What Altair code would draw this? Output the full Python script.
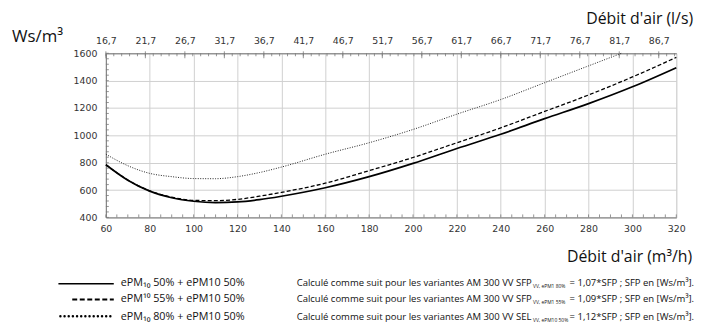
import altair as alt
import pandas as pd

# ---------------- data ----------------
flow_m3h = [60, 70, 80, 90, 100, 110, 120, 130, 140, 160, 180, 200, 220, 240, 260, 280, 300, 320]
sfp_50 = [785, 672, 592, 544, 518, 508, 513, 530, 555, 617, 698, 795, 904, 1008, 1122, 1232, 1355, 1495]
sfp_55 = [785, 674, 594, 548, 525, 522, 532, 555, 583, 650, 742, 838, 946, 1055, 1175, 1295, 1427, 1570]
flow_m3h_80 = [60, 70, 80, 90, 100, 110, 120, 130, 140, 160, 180, 200, 220, 240, 260, 280, 295]
sfp_80 = [862, 778, 722, 698, 684, 683, 698, 728, 768, 862, 946, 1043, 1155, 1262, 1385, 1508, 1600]

x_ticks = list(range(60, 321, 20))
y_ticks = list(range(400, 1601, 200))
top_ticks = [60 + 18 * k for k in range(15)]
top_labels = ["16,7", "21,7", "26,7", "31,7", "36,7", "41,7", "46,7", "51,7",
              "56,7", "61,7", "66,7", "71,7", "76,7", "81,7", "86,7"]

legend_labels = ["ePM\u2081\u2080 50% + ePM10 50%",
                 "ePM\u00b9\u2070 55% + ePM10 50%",
                 "ePM\u2081\u2080 80% + ePM10 50%"]
note_left = ["Calculé comme suit pour les variantes AM 300 VV SFP",
             "Calculé comme suit pour les variantes AM 300 VV SFP",
             "Calculé comme suit pour les variantes AM 300 VV SEL"]
note_sub = ["VV, ePM1 80%", "VV, ePM1 55%", "VV, ePM10 50%"]
note_right = ["= 1,07*SFP ; SFP en [Ws/m\u00b3].",
              "= 1,09*SFP ; SFP en [Ws/m\u00b3].",
              "= 1,12*SFP ; SFP en [Ws/m\u00b3]."]

W, H = 577, 166
XS = alt.Scale(domain=[60, 320], nice=False, zero=False)
YS = alt.Scale(domain=[400, 1600], nice=False, zero=False)
AXC = "#333333"
DOM = "#7a7a7a"
GRID = "#cfcfcf"
TF = "Open Sans"
LF = "DejaVu Sans"

df50 = pd.DataFrame({"q": flow_m3h, "v": sfp_50})
df55 = pd.DataFrame({"q": flow_m3h, "v": sfp_55})
df80 = pd.DataFrame({"q": flow_m3h_80, "v": sfp_80})

bottom_axis = alt.Axis(orient="bottom", values=x_ticks, grid=True, gridColor=GRID, gridWidth=1,
                       domainColor=DOM, tickSize=0, labelPadding=6, labelFont=LF, labelFontSize=9.5,
                       labelColor=AXC, title=None, labelFlush=False, format="d")
left_axis = alt.Axis(orient="left", values=y_ticks, grid=True, gridColor=GRID, gridWidth=1,
                     domainColor=DOM, tickSize=0, labelPadding=9, labelFont=LF, labelFontSize=9.5,
                     labelColor=AXC, title=None, labelFlush=False, format="d")
arr_v = "[" + ",".join(str(v) for v in top_ticks) + "]"
arr_l = "[" + ",".join("'" + s + "'" for s in top_labels) + "]"
top_axis = alt.Axis(orient="top", values=top_ticks, grid=False, domainColor=DOM, tickSize=0,
                    labelPadding=8, labelFont=LF, labelFontSize=9.5, labelColor=AXC, title=None,
                    labelFlush=False, labelExpr=arr_l + "[indexof(" + arr_v + ", datum.value)]")

line50 = alt.Chart(df50).mark_line(color="black", strokeWidth=1.7, interpolate="monotone").encode(
    x=alt.X("q:Q", scale=XS, axis=bottom_axis),
    y=alt.Y("v:Q", scale=YS, axis=left_axis))
line55 = alt.Chart(df55).mark_line(color="black", strokeWidth=1.3, strokeDash=[4, 2.2],
                                   interpolate="monotone").encode(
    x=alt.X("q:Q", scale=XS, axis=top_axis),
    y=alt.Y("v:Q", scale=YS, axis=None))
line80 = alt.Chart(df80).mark_line(color="#222222", strokeWidth=1.0, strokeDash=[1, 1.5],
                                   interpolate="monotone").encode(
    x=alt.X("q:Q", scale=XS, axis=None),
    y=alt.Y("v:Q", scale=YS, axis=None))

# minor ticks (inside the frame)
bt = pd.DataFrame({"q": list(range(60, 321, 5))})
tt = pd.DataFrame({"q": [60 + 3.6 * k for k in range(73)]})
lt = pd.DataFrame({"v": list(range(400, 1601, 40))})
tick_b = alt.Chart(bt).mark_rule(color=DOM, strokeWidth=0.8).encode(
    x=alt.X("q:Q", scale=XS, axis=None), y=alt.value(H), y2=alt.value(H - 3))
tick_t = alt.Chart(tt).mark_rule(color=DOM, strokeWidth=0.8).encode(
    x=alt.X("q:Q", scale=XS, axis=None), y=alt.value(0), y2=alt.value(3))
tick_tm = alt.Chart(pd.DataFrame({"q": top_ticks})).mark_rule(color=DOM, strokeWidth=0.8).encode(
    x=alt.X("q:Q", scale=XS, axis=None), y=alt.value(-2), y2=alt.value(5))
tick_l = alt.Chart(lt).mark_rule(color=DOM, strokeWidth=0.8).encode(
    y=alt.Y("v:Q", scale=YS, axis=None), x=alt.value(0), x2=alt.value(3))


def txt(label, x, y, size, align="left", font=TF, color="#111111", baseline="alphabetic"):
    return alt.Chart(pd.DataFrame({"t": [label]})).mark_text(
        align=align, baseline=baseline, font=font, fontSize=size, color=color).encode(
        text="t:N", x=alt.value(x), y=alt.value(y))


texts = [
    txt("Ws/m\u00b3", -95, -11, 17),
    txt("Débit d'air (l/s)", 594, -30, 16, align="right"),
    txt("Débit d'air (m\u00b3/h)", 593, 211, 16, align="right"),
]
row_y = [235, 252, 270]
for i in range(3):
    texts.append(txt(legend_labels[i], 15, row_y[i], 10.9))
    texts.append(txt(note_left[i], 193, row_y[i], 9.6))
    texts.append(txt(note_sub[i], 432, row_y[i] + 2, 5))
    texts.append(txt(note_right[i], 595, row_y[i], 9.6, align="right"))


def sample(x1, x2, y, width, dash=None, cap="butt"):
    kw = dict(color="black", strokeWidth=width, strokeCap=cap)
    if dash:
        kw["strokeDash"] = dash
    return alt.Chart(pd.DataFrame({"a": [0]})).mark_rule(**kw).encode(
        x=alt.value(x1), x2=alt.value(x2), y=alt.value(y))


samples = [
    sample(-48, 8, 233, 1.5),
    sample(-34, 8, 249, 2.0, dash=[5, 2.6]),
    sample(-46, 8, 266, 2.5, dash=[0.01, 4.2], cap="round"),
]

chart = alt.layer(line50, line55, line80, tick_b, tick_t, tick_tm, tick_l, *samples, *texts).resolve_axis(
    x="independent", y="independent"
).properties(
    width=W, height=H,
    autosize=alt.AutoSizeParams(type="none"),
    padding={"left": 99, "top": 44, "right": 26, "bottom": 105},
).configure_view(stroke=None).configure(background="white")

chart.save("out.html", embed_options={"renderer": "svg", "actions": False})
